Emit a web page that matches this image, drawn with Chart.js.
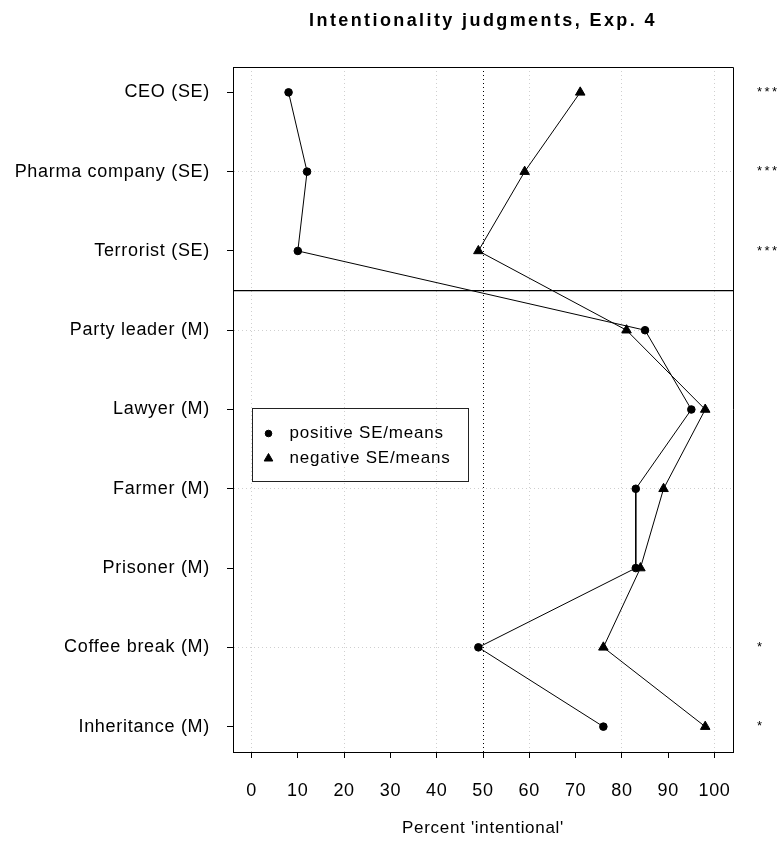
<!DOCTYPE html>
<html>
<head>
<meta charset="utf-8">
<title>Intentionality judgments, Exp. 4</title>
<script src="https://cdn.jsdelivr.net/npm/chart.js@4.4.0/dist/chart.umd.min.js"></script>
<style>
  html, body { margin: 0; padding: 0; background: #fff; }
  canvas { display: block; }
</style>
</head>
<body>
<canvas id="chart" width="781" height="850"></canvas>
<script>
// vignettes, top to bottom
var categories = ['CEO (SE)', 'Pharma company (SE)', 'Terrorist (SE)', 'Party leader (M)',
    'Lawyer (M)', 'Farmer (M)', 'Prisoner (M)', 'Coffee break (M)', 'Inheritance (M)'];
var positiveMeans = [8, 12, 10, 85, 95, 83, 83, 49, 76];
var negativeMeans = [71, 59, 49, 81, 98, 89, 84, 76, 98];
var significance = ['***', '***', '***', '', '', '', '', '*', '*'];
var xTicks = [0, 10, 20, 30, 40, 50, 60, 70, 80, 90, 100];
var xMin = -4, xMax = 104;
var separatorY = 6.5;   // SE vignettes above, M vignettes below
var referenceX = 50;

var n = categories.length;
function rowValue(i) { return n - i; }
function toPoints(values) {
    return values.map(function (v, i) { return { x: v, y: rowValue(i) }; });
}

Chart.defaults.font.family = '"Liberation Sans", Arial, sans-serif';
Chart.defaults.font.size = 18;
Chart.defaults.color = '#000';

var spacing = {
    id: 'spacing',
    beforeLayout: function (chart) { chart.ctx.letterSpacing = '0.7px'; },
    beforeDraw: function (chart) {
        var ctx = chart.ctx;
        ctx.save();
        ctx.fillStyle = '#fff';
        ctx.fillRect(0, 0, chart.width, chart.height);
        ctx.restore();
        ctx.letterSpacing = '0.7px';
    }
};

var extras = {
    id: 'extras',
    afterDraw: function (chart) {
        var ctx = chart.ctx, a = chart.chartArea;
        var xs = chart.scales.x, ys = chart.scales.y;
        ctx.save();

        // frame (top and right sides)
        ctx.strokeStyle = '#000';
        ctx.lineWidth = 1;
        ctx.beginPath();
        ctx.moveTo(a.left, a.top + 0.5);
        ctx.lineTo(a.right + 0.5, a.top + 0.5);
        ctx.lineTo(a.right + 0.5, a.bottom);
        ctx.stroke();

        // title
        ctx.fillStyle = '#000';
        ctx.letterSpacing = '2.4px';
        ctx.font = 'bold 18px "Liberation Sans", Arial, sans-serif';
        ctx.textAlign = 'center';
        ctx.textBaseline = 'middle';
        ctx.fillText('Intentionality judgments, Exp. 4', (a.left + a.right) / 2, 21);

        // significance stars
        ctx.letterSpacing = '2.5px';
        ctx.font = '13px "Liberation Sans", Arial, sans-serif';
        ctx.textAlign = 'left';
        significance.forEach(function (s, i) {
            if (s) ctx.fillText(s, a.right + 24, ys.getPixelForValue(rowValue(i)));
        });

        // legend
        var bx = Math.round(xs.getPixelForValue(0)) + 0.5;
        var by = Math.round(ys.getPixelForValue(5)) - 1.5;
        ctx.strokeStyle = '#222';
        ctx.strokeRect(bx, by, 216, 73);
        ctx.letterSpacing = '0.8px';
        ctx.font = '17px "Liberation Sans", Arial, sans-serif';
        ctx.textBaseline = 'middle';
        var items = chart.data.datasets.filter(function (d) { return d.label; });
        items.forEach(function (d, k) {
            var cy = by + 25 + k * 25;
            ctx.fillStyle = '#000';
            ctx.strokeStyle = '#000';
            ctx.lineWidth = 1;
            Chart.helpers.drawPoint(ctx, {
                pointStyle: d.pointStyle, radius: d.pointRadius - 0.5, rotation: 0, borderWidth: 1
            }, bx + 16, cy);
            ctx.fillText(d.label, bx + 37, cy);
        });
        ctx.restore();
    }
};

new Chart(document.getElementById('chart'), {
    type: 'scatter',
    data: {
        datasets: [{
            label: 'positive SE/means',
            data: toPoints(positiveMeans),
            showLine: true,
            borderColor: '#000',
            borderWidth: 1,
            backgroundColor: '#000',
            pointStyle: 'circle',
            pointRadius: 3.8,
            pointBorderWidth: 1
        }, {
            label: 'negative SE/means',
            data: toPoints(negativeMeans),
            showLine: true,
            borderColor: '#000',
            borderWidth: 1,
            backgroundColor: '#000',
            pointStyle: 'triangle',
            pointRadius: 5.5,
            pointBorderWidth: 1
        }, {
            label: '',
            data: [{ x: xMin, y: separatorY }, { x: xMax, y: separatorY }],
            showLine: true,
            borderColor: '#000',
            borderWidth: 1.3,
            pointRadius: 0
        }]
    },
    options: {
        responsive: false,
        animation: false,
        layout: { padding: { top: 67, right: 48, left: 0, bottom: 0 } },
        plugins: {
            legend: { display: false },
            tooltip: { enabled: false },
            title: { display: false }
        },
        scales: {
            x: {
                type: 'linear',
                min: xMin,
                max: xMax,
                afterBuildTicks: function (axis) {
                    axis.ticks = xTicks.map(function (v) { return { value: v }; });
                },
                afterFit: function (axis) { axis.height = 98; },
                grid: {
                    color: function (c) {
                        if (!c.tick) return '#000';
                        if (c.tick.value === referenceX) return '#000';
                        return c.tick.value % 20 === 0 ? '#cfcfcf' : 'rgba(0,0,0,0)';
                    },
                    tickColor: '#000',
                    tickLength: 6,
                    lineWidth: 1
                },
                border: { color: '#000', width: 1, dash: [1, 3] },
                ticks: { color: '#000', padding: 22, autoSkip: false, maxRotation: 0 },
                title: {
                    display: true,
                    text: "Percent 'intentional'",
                    color: '#000',
                    font: { size: 17 },
                    padding: { top: 0, bottom: 11 }
                }
            },
            y: {
                type: 'linear',
                min: 0.68,
                max: 9.32,
                afterBuildTicks: function (axis) {
                    axis.ticks = categories.map(function (c, i) { return { value: rowValue(i) }; });
                },
                afterFit: function (axis) { axis.width = 233; },
                grid: {
                    color: function (c) {
                        if (!c.tick) return '#000';
                        return c.tick.value % 2 === 0 ? '#cfcfcf' : 'rgba(0,0,0,0)';
                    },
                    tickColor: '#000',
                    tickLength: 6,
                    lineWidth: 1
                },
                border: { color: '#000', width: 1, dash: [1, 3] },
                ticks: {
                    color: '#000',
                    padding: 17,
                    autoSkip: false,
                    callback: function (v) { return categories[n - v]; }
                }
            }
        }
    },
    plugins: [spacing, extras]
});
</script>
</body>
</html>
